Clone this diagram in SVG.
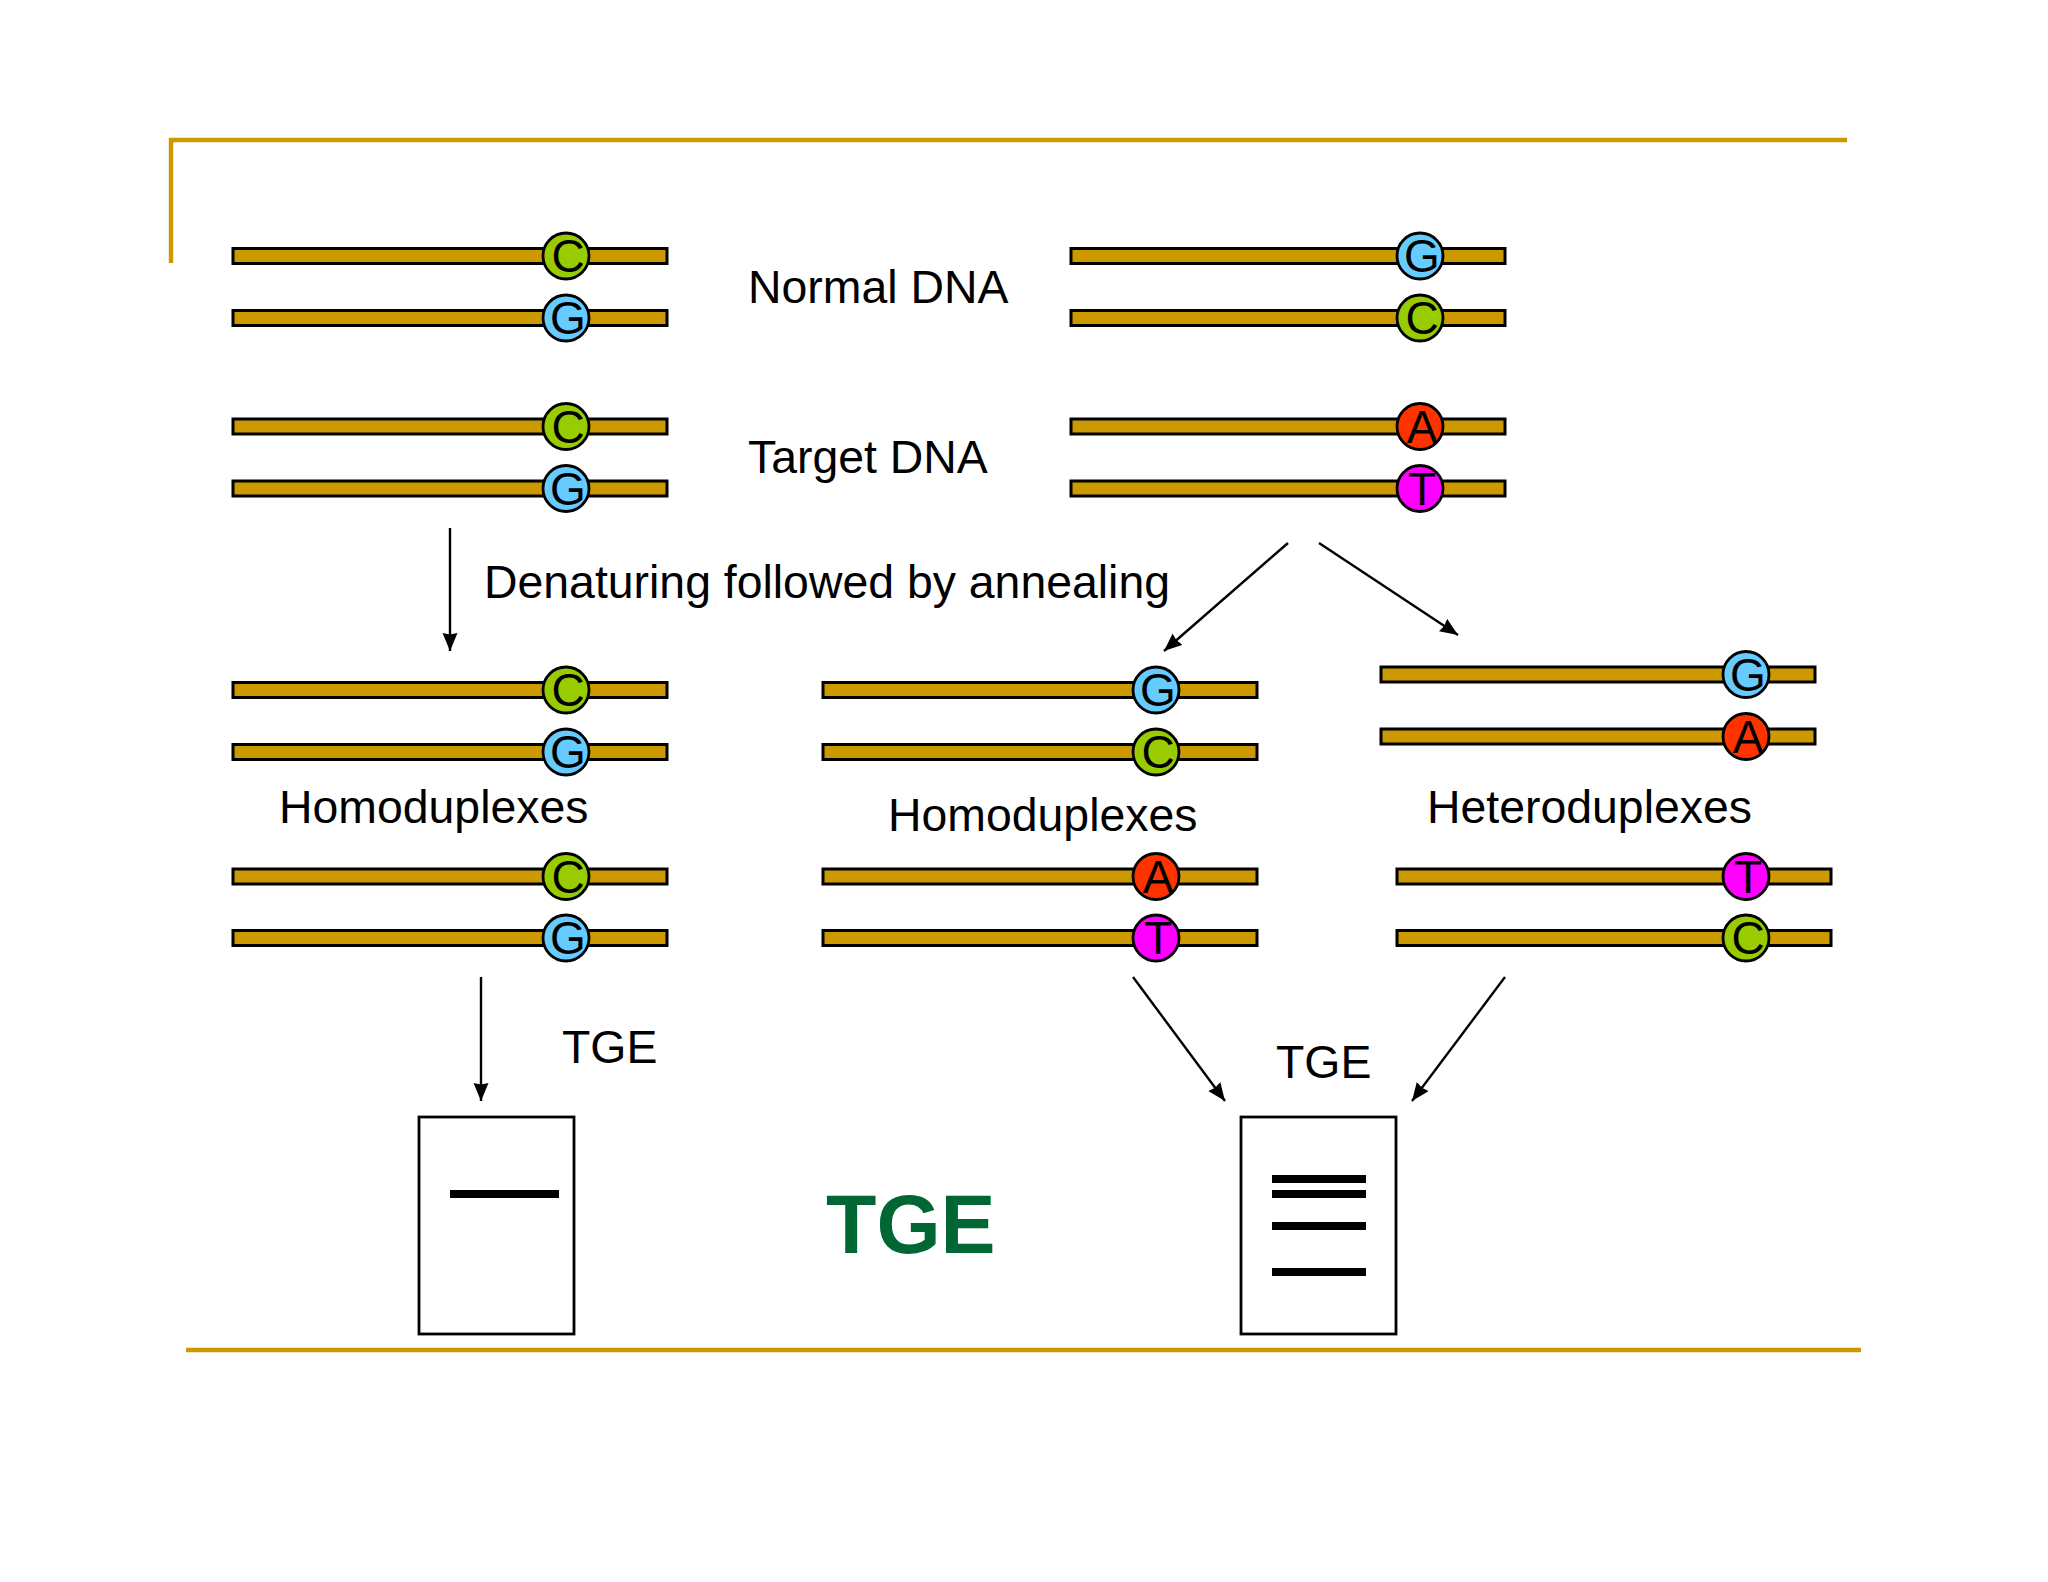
<svg xmlns="http://www.w3.org/2000/svg" width="2048" height="1582" viewBox="0 0 2048 1582">
<style>
text{font-family:"Liberation Sans",Arial,sans-serif;fill:#000}
.bar{fill:#CC9900;stroke:#000;stroke-width:3}
.dot{stroke:#000;stroke-width:2.8}
.C{fill:#99CC00}.G{fill:#66CCFF}.A{fill:#FF3300}.T{fill:#FF00FF}
.base{font-size:46px;text-anchor:middle}
.lab{font-size:46.4px}
.frame{stroke:#CC9900;stroke-width:4.4;fill:none}
.gel{fill:#fff;stroke:#000;stroke-width:2.8}
.band{fill:#000}
.conn{stroke:#000;stroke-width:2.4;fill:none;marker-end:url(#ah)}
</style>
<defs>
<marker id="ah" markerUnits="userSpaceOnUse" markerWidth="19" markerHeight="16" refX="18" refY="7.5" orient="auto"><path d="M0 0L18 7.5L0 15L1.5 7.5Z" fill="#000"/></marker>
<g id="s"><rect class="bar" x="0" y="-7.5" width="434" height="15"/></g>
</defs>
<rect width="2048" height="1582" fill="#fff"/>
<g id="frame"><path class="frame" d="M171 263V140H1847"/><path class="frame" d="M186 1350H1861"/></g>
<g id="connectors">
<line class="conn" x1="450" y1="528" x2="450" y2="651"/>
<line class="conn" x1="1288" y1="543" x2="1164" y2="651"/>
<line class="conn" x1="1319" y1="543" x2="1458" y2="635"/>
<line class="conn" x1="481" y1="977" x2="481" y2="1101"/>
<line class="conn" x1="1133" y1="977" x2="1225" y2="1101"/>
<line class="conn" x1="1505" y1="977" x2="1412" y2="1101"/>
</g>
<g id="normal-left-c"><use href="#s" x="233" y="256"/><circle class="dot C" cx="566" cy="256" r="23"/><text class="base" x="568" y="272">C</text></g>
<g id="normal-left-g"><use href="#s" x="233" y="318"/><circle class="dot G" cx="566" cy="318" r="23"/><text class="base" x="568" y="334">G</text></g>
<g id="target-left-c"><use href="#s" x="233" y="426.5"/><circle class="dot C" cx="566" cy="426.5" r="23"/><text class="base" x="568" y="442.5">C</text></g>
<g id="target-left-g"><use href="#s" x="233" y="488.5"/><circle class="dot G" cx="566" cy="488.5" r="23"/><text class="base" x="568" y="504.5">G</text></g>
<g id="normal-right-g"><use href="#s" x="1071" y="256"/><circle class="dot G" cx="1420" cy="256" r="23"/><text class="base" x="1422" y="272">G</text></g>
<g id="normal-right-c"><use href="#s" x="1071" y="318"/><circle class="dot C" cx="1420" cy="318" r="23"/><text class="base" x="1422" y="334">C</text></g>
<g id="target-right-a"><use href="#s" x="1071" y="426.5"/><circle class="dot A" cx="1420" cy="426.5" r="23"/><text class="base" x="1422" y="442.5">A</text></g>
<g id="target-right-t"><use href="#s" x="1071" y="488.5"/><circle class="dot T" cx="1420" cy="488.5" r="23"/><text class="base" x="1422" y="504.5">T</text></g>
<g id="homo1-c"><use href="#s" x="233" y="690"/><circle class="dot C" cx="566" cy="690" r="23"/><text class="base" x="568" y="706">C</text></g>
<g id="homo1-g"><use href="#s" x="233" y="752"/><circle class="dot G" cx="566" cy="752" r="23"/><text class="base" x="568" y="768">G</text></g>
<g id="homo2-c"><use href="#s" x="233" y="876.5"/><circle class="dot C" cx="566" cy="876.5" r="23"/><text class="base" x="568" y="892.5">C</text></g>
<g id="homo2-g"><use href="#s" x="233" y="938"/><circle class="dot G" cx="566" cy="938" r="23"/><text class="base" x="568" y="954">G</text></g>
<g id="homo3-g"><use href="#s" x="823" y="690"/><circle class="dot G" cx="1156" cy="690" r="23"/><text class="base" x="1158" y="706">G</text></g>
<g id="homo3-c"><use href="#s" x="823" y="752"/><circle class="dot C" cx="1156" cy="752" r="23"/><text class="base" x="1158" y="768">C</text></g>
<g id="homo4-a"><use href="#s" x="823" y="876.5"/><circle class="dot A" cx="1156" cy="876.5" r="23"/><text class="base" x="1158" y="892.5">A</text></g>
<g id="homo4-t"><use href="#s" x="823" y="938"/><circle class="dot T" cx="1156" cy="938" r="23"/><text class="base" x="1158" y="954">T</text></g>
<g id="hetero1-g"><use href="#s" x="1381" y="674.5"/><circle class="dot G" cx="1746" cy="674.5" r="23"/><text class="base" x="1748" y="690.5">G</text></g>
<g id="hetero1-a"><use href="#s" x="1381" y="736.5"/><circle class="dot A" cx="1746" cy="736.5" r="23"/><text class="base" x="1748" y="752.5">A</text></g>
<g id="hetero2-t"><use href="#s" x="1397" y="876.5"/><circle class="dot T" cx="1746" cy="876.5" r="23"/><text class="base" x="1748" y="892.5">T</text></g>
<g id="hetero2-c"><use href="#s" x="1397" y="938"/><circle class="dot C" cx="1746" cy="938" r="23"/><text class="base" x="1748" y="954">C</text></g>
<g id="labels">
<text class="lab" x="748" y="303">Normal DNA</text>
<text class="lab" x="748" y="473">Target DNA</text>
<text class="lab" x="484" y="598" textLength="686" lengthAdjust="spacing">Denaturing followed by annealing</text>
<text class="lab" x="279" y="822.5">Homoduplexes</text>
<text class="lab" x="888" y="830.5">Homoduplexes</text>
<text class="lab" x="1427" y="822.5">Heteroduplexes</text>
<text class="lab" x="562" y="1062.5">TGE</text>
<text class="lab" x="1276" y="1077.5">TGE</text>
<text x="826" y="1253" font-size="82.5" font-weight="700" style="fill:#006633">TGE</text>
</g>
<g id="gel-left"><rect class="gel" x="419" y="1117" width="155" height="217"/><rect class="band" x="450" y="1190" width="109" height="8"/></g>
<g id="gel-right"><rect class="gel" x="1241" y="1117" width="155" height="217"/><rect class="band" x="1272" y="1175" width="94" height="8"/><rect class="band" x="1272" y="1190" width="94" height="8"/><rect class="band" x="1272" y="1222" width="94" height="8"/><rect class="band" x="1272" y="1268" width="94" height="8"/></g>
</svg>
